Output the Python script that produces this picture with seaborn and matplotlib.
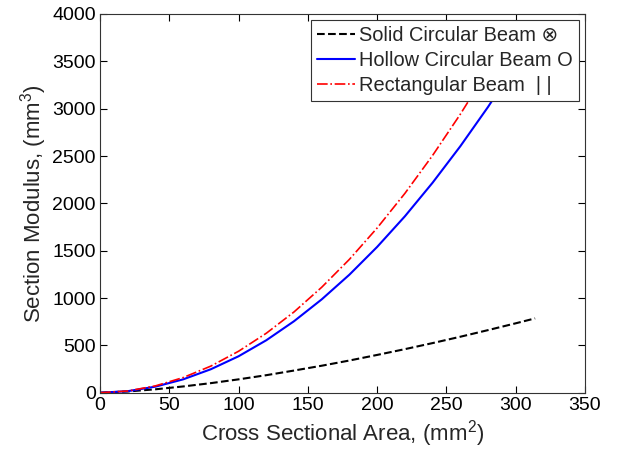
import matplotlib
matplotlib.use("Agg")
import matplotlib.pyplot as plt
import seaborn as sns

# cross sectional area (mm^2)
area = [0, 20, 40, 60, 80, 100, 120, 140, 160, 180, 200, 220, 240, 260, 280, 300, 314]
area_b = [0, 20, 40, 60, 80, 100, 120, 140, 160, 180, 200, 220, 240, 260, 280, 300]
# section modulus (mm^3) for each beam type
solid = [0, 13, 36, 66, 101, 141, 185, 234, 285, 340, 399, 460, 524, 591, 661, 733, 785]
hollow = [0, 16, 64, 141, 248, 385, 554, 755, 986, 1247, 1540, 1863, 2218, 2603, 3018, 3465]
rect = [0, 18, 72, 160, 281, 438, 628, 853, 1114, 1409, 1740, 2105, 2506, 2941, 3410, 3900]

labels = ["Solid Circular Beam \u2297", "Hollow Circular Beam O", "Rectangular Beam  | |"]

sns.set_style("ticks")
plt.rcParams["font.family"] = ["Liberation Sans", "DejaVu Sans"]
plt.rcParams["mathtext.fontset"] = "custom"
plt.rcParams["mathtext.rm"] = "Liberation Sans"
plt.rcParams["mathtext.it"] = "Liberation Sans"

fig = plt.figure(figsize=(6.19, 4.57), dpi=100)
ax = fig.add_axes([0.1616, 0.1407, 0.7835, 0.8287])

sns.lineplot(x=area, y=solid, ax=ax, color="black", linestyle="--", linewidth=1.5,
             label=labels[0], sort=False)
sns.lineplot(x=area_b, y=hollow, ax=ax, color="#0000ff", linestyle="-", linewidth=1.5,
             label=labels[1], sort=False)
sns.lineplot(x=area_b, y=rect, ax=ax, color="#ff0000", linestyle="-.", linewidth=1.2,
             label=labels[2], sort=False)

ax.set_xlim(0, 350)
ax.set_ylim(0, 4000)
ax.set_xticks(range(0, 351, 50))
ax.set_yticks(range(0, 4001, 500))
ax.tick_params(direction="in", top=True, right=True, labelsize=14, length=5,
               width=0.8, colors="black", pad=3)
for s in ax.spines.values():
    s.set_visible(True)
    s.set_color("#333333")
    s.set_linewidth(0.8)

ax.set_xlabel("Cross Sectional Area, (mm$^2$)", fontsize=16, labelpad=3)
ax.set_ylabel("Section Modulus, (mm$^3$)", fontsize=16, labelpad=2)

leg = ax.legend(loc="upper right", fontsize=14.4, frameon=True, fancybox=False,
                framealpha=1, edgecolor="#333333", handlelength=1.9,
                handletextpad=0.2, borderpad=0.3, labelspacing=0.3,
                borderaxespad=0.3)
leg.get_frame().set_linewidth(0.8)

fig.savefig("out.png", dpi=100)
